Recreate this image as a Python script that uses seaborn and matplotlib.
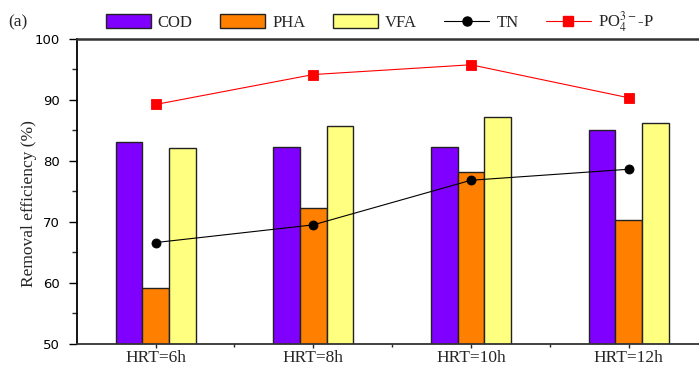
import matplotlib
matplotlib.use("Agg")
import matplotlib.pyplot as plt
import seaborn as sns
import pandas as pd
from matplotlib.patches import Patch
from matplotlib.lines import Line2D
from matplotlib.ticker import MultipleLocator

# ---- data ----
categories = ["HRT=6h", "HRT=8h", "HRT=10h", "HRT=12h"]
cod = [83.1, 82.2, 82.3, 85.0]
pha = [59.2, 72.2, 78.1, 70.3]
vfa = [82.0, 85.7, 87.2, 86.2]
tn = [66.6, 69.5, 76.8, 78.6]
po4 = [89.2, 94.1, 95.7, 90.3]
bar_series = ["COD", "PHA", "VFA"]
bar_colors = ["#8000FF", "#FF8000", "#FFFF80"]

sns.set_style("ticks")
plt.rcParams["font.family"] = ["Liberation Serif", "DejaVu Serif"]
plt.rcParams["mathtext.fontset"] = "stix"

bars = pd.DataFrame({
    "hrt": categories * 3,
    "series": [s for s in bar_series for _ in categories],
    "value": cod + pha + vfa,
})
lines = pd.DataFrame({"hrt": categories, "TN": tn, "PO4": po4})

fig = plt.figure(figsize=(6.99, 3.65), dpi=100)
W, H = 699, 365
ax = fig.add_axes([76.7 / W, 21 / H, 630.8 / W, 305.5 / H])

sns.barplot(data=bars, x="hrt", y="value", hue="series", hue_order=bar_series,
            order=categories, palette=bar_colors, width=0.507, gap=0,
            edgecolor="#222222", linewidth=1.0, saturation=1, legend=False, ax=ax)

sns.pointplot(data=lines, x="hrt", y="TN", order=categories, color="black",
              markers="o", linestyles="-", markersize=6.5, linewidth=0.8,
              errorbar=None, ax=ax)
sns.pointplot(data=lines, x="hrt", y="PO4", order=categories, color="#FF0000",
              markers="s", linestyles="-", markersize=6.5, linewidth=0.8,
              errorbar=None, ax=ax)

ax.set_xlim(-0.5, 3.5)
ax.set_ylim(50, 100)
ax.set_yticks([50, 60, 70, 80, 90, 100])
ax.yaxis.set_minor_locator(MultipleLocator(5))
ax.set_xticks(range(len(categories)))
ax.set_xticklabels(categories, fontsize=12.5, family=["Liberation Serif"])
ax.set_xticks([0.5, 1.5, 2.5], minor=True)
for lab in ax.get_yticklabels():
    lab.set_family(["DejaVu Sans"])
    lab.set_fontsize(9.5)

ax.tick_params(axis="y", which="major", direction="out", length=6, width=1, pad=6, colors="black")
ax.tick_params(axis="y", which="minor", direction="out", length=3.5, width=1)
ax.tick_params(axis="x", which="major", direction="out", length=3, width=1, pad=1)
ax.tick_params(axis="x", which="minor", direction="out", length=2, width=1)

ax.set_xlabel("")
ax.set_ylabel("Removal efficiency (%)", fontsize=12.5, family=["Liberation Serif"])
ax.yaxis.set_label_coords(-0.063, 0.46)

for side in ["left", "top", "bottom"]:
    ax.spines[side].set_visible(True)
ax.spines["left"].set_color("black")
ax.spines["left"].set_linewidth(1.3)
ax.spines["top"].set_color("#333333")
ax.spines["top"].set_linewidth(1.8)
ax.spines["bottom"].set_color("#333333")
ax.spines["bottom"].set_linewidth(1.3)
ax.spines["right"].set_visible(False)

handles = [Patch(facecolor=c, edgecolor="#222222", linewidth=1.0) for c in bar_colors]
handles += [
    Line2D([], [], color="black", lw=0.8, marker="o", markersize=6.5),
    Line2D([], [], color="#FF0000", lw=0.8, marker="s", markersize=6.5),
]
labels = bar_series + ["TN", r"PO$_4^{3-}$-P"]
fig.legend(handles, labels, loc="center left", bbox_to_anchor=(105.7 / W, 1 - 22 / H),
           ncol=5, frameon=False, borderpad=0, fontsize=12,
           handlelength=2.7, handleheight=0.88, handletextpad=0.42,
           columnspacing=1.65, borderaxespad=0)

fig.text(8 / W, 1 - 22 / H, "(a)", fontsize=12.5, va="center", ha="left")

fig.savefig("out.png", dpi=100)
